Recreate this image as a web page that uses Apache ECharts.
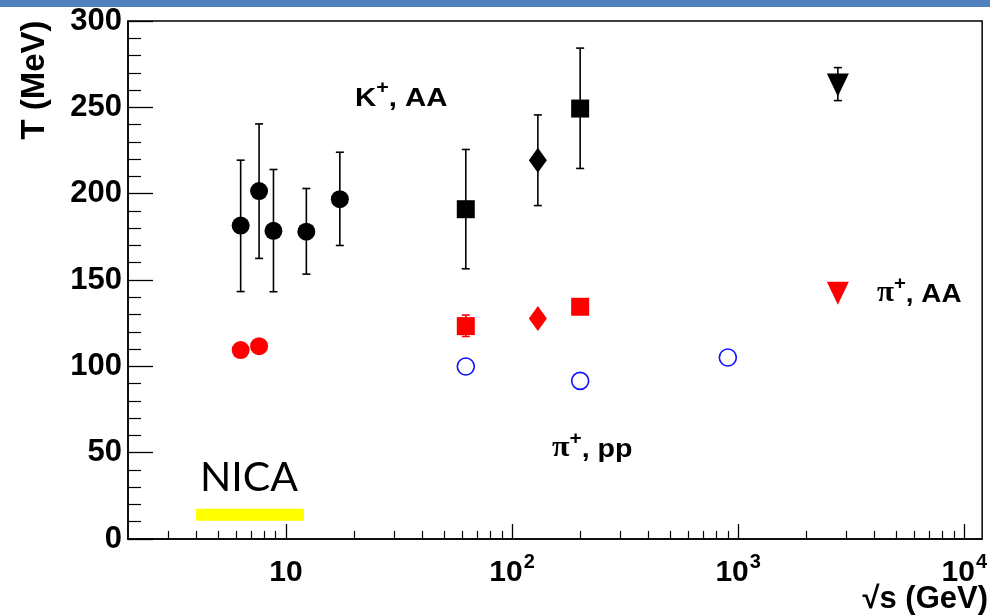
<!DOCTYPE html>
<html>
<head>
<meta charset="utf-8">
<script src="https://cdn.jsdelivr.net/npm/echarts@6/dist/echarts.min.js"></script>
<style>
  html, body { margin: 0; padding: 0; background: #fff; }
  #chart { width: 990px; height: 615px; }
</style>
</head>
<body>
<div id="chart"></div>
<script>
// Kaon and pion inverse-slope temperatures vs collision energy

// K+ in nucleus-nucleus collisions (with error bars)
const kaonCircleX = [6.3, 7.6, 8.8, 12.3, 17.3];
const kaonCircleT = [181.5, 201.5, 178.5, 178, 196.8];
const kaonCircleLo = [143.3, 162.5, 143.2, 153.4, 170];
const kaonCircleHi = [219.4, 240.4, 214, 203, 224];

const kaonSquareX = [62.4, 200];
const kaonSquareT = [191, 249.3];
const kaonSquareLo = [156.5, 214.6];
const kaonSquareHi = [225.6, 284.3];

const kaonDiamondX = [130];
const kaonDiamondT = [219.4];
const kaonDiamondLo = [193.1];
const kaonDiamondHi = [245.6];

const kaonTriangleX = [2760];
const kaonTriangleT = [263];
const kaonTriangleLo = [253.9];
const kaonTriangleHi = [273];

// pi+ in nucleus-nucleus collisions
const pionAACircleX = [6.3, 7.6];
const pionAACircleT = [109.4, 111.7];

const pionAASquareX = [62.4, 200];
const pionAASquareT = [123.3, 134.5];
const pionAASquareErrX = [62.4];
const pionAASquareErrLo = [117.3];
const pionAASquareErrHi = [129.7];

const pionAADiamondX = [130];
const pionAADiamondT = [127.7];

const pionAATriangleX = [2760];
const pionAATriangleT = [142.3];

// pi+ in proton-proton collisions
const pionPPX = [62.4, 200, 900];
const pionPPT = [99.9, 91.6, 105.1];

// NICA energy range (sqrt(s) GeV) and band height (MeV)
const nicaRange = [4, 12];
const nicaBand = [10.5, 17.5];

// axis ticks
const xMajorTicks = [10, 100, 1000, 10000];
const xMinorTicks = [3, 4, 5, 6, 7, 8, 9, 20, 30, 40, 50, 60, 70, 80, 90,
  200, 300, 400, 500, 600, 700, 800, 900, 2000, 3000, 4000, 5000, 6000, 7000, 8000, 9000];

const zip = (xs, ys) => xs.map((x, i) => [x, ys[i]]);
const zip3 = (xs, lo, hi) => xs.map((x, i) => [x, lo[i], hi[i]]);

function errorBars(data, color) {
  return {
    type: 'custom',
    xAxisIndex: 0,
    yAxisIndex: 0,
    data: data,
    encode: { x: 0, y: [1, 2] },
    z: 1,
    silent: true,
    renderItem: function (params, api) {
      const x = api.value(0);
      const top = api.coord([x, api.value(2)]);
      const bot = api.coord([x, api.value(1)]);
      const cap = 4;
      const st = { stroke: color, lineWidth: 1.6 };
      return {
        type: 'group',
        children: [
          { type: 'line', shape: { x1: top[0], y1: top[1], x2: bot[0], y2: bot[1] }, style: st },
          { type: 'line', shape: { x1: top[0] - cap, y1: top[1], x2: top[0] + cap, y2: top[1] }, style: st },
          { type: 'line', shape: { x1: bot[0] - cap, y1: bot[1], x2: bot[0] + cap, y2: bot[1] }, style: st }
        ]
      };
    }
  };
}

function markers(data, symbol, size, color, extra) {
  return Object.assign({
    type: 'scatter',
    data: data,
    symbol: symbol,
    symbolSize: size,
    itemStyle: { color: color, opacity: 1 },
    z: 3,
    silent: true
  }, extra || {});
}

// rich-text styles for the particle annotations
function annotationRich() {
  const base = { fontFamily: 'Liberation Sans', fontWeight: 'bold', fill: '#000', lineHeight: 34 };
  return {
    p: Object.assign({}, base, { fontSize: 29, fontFamily: 'Liberation Serif', verticalAlign: 'bottom' }),
    b: Object.assign({}, base, { fontSize: 26, verticalAlign: 'bottom' }),
    s: Object.assign({}, base, { fontSize: 19, verticalAlign: 'top' })
  };
}

const chart = echarts.init(document.getElementById('chart'), null, { renderer: 'canvas' });

const sansBold = { fontFamily: 'Liberation Sans', fontWeight: 'bold', color: '#000' };

chart.setOption({
  animation: false,
  backgroundColor: '#fff',
  grid: {
    left: 128, top: 21, right: 4, bottom: 76,
    show: true, borderColor: '#000', borderWidth: 1.5, backgroundColor: 'transparent'
  },
  xAxis: [
    {
      type: 'log', logBase: 10, min: 2, max: 12000,
      axisLine: { show: true, lineStyle: { color: '#000', width: 1.5 } },
      axisTick: { show: true, inside: true, length: 15, lineStyle: { color: '#000', width: 1.3 }, customValues: xMajorTicks },
      axisLabel: {
        show: true, margin: 13, customValues: xMajorTicks,
        formatter: function (v) {
          const e = Math.round(Math.log10(v));
          return e === 1 ? '{b|10}' : '{b|10}{s|' + e + '}';
        },
        rich: {
          b: Object.assign({ fontSize: 30, lineHeight: 36, verticalAlign: 'bottom' }, sansBold),
          s: Object.assign({ fontSize: 20, lineHeight: 36, verticalAlign: 'top', padding: [0, 0, 0, 1] }, sansBold)
        }
      },
      splitLine: { show: false },
      minorTick: { show: false }
    },
    {
      type: 'log', logBase: 10, min: 2, max: 12000, position: 'bottom',
      axisLine: { show: false },
      axisTick: { show: true, inside: true, length: 8, lineStyle: { color: '#000', width: 1.2 }, customValues: xMinorTicks },
      axisLabel: { show: false },
      splitLine: { show: false }
    }
  ],
  yAxis: {
    type: 'value', min: 0, max: 300, interval: 50,
    axisLine: { show: true, lineStyle: { color: '#000', width: 1.5 } },
    axisTick: { show: true, inside: true, length: 25, lineStyle: { color: '#000', width: 1.3 } },
    minorTick: { show: true, splitNumber: 5, length: 13, lineStyle: { color: '#000', width: 1.2 } },
    axisLabel: Object.assign({ fontSize: 31, margin: 6 }, sansBold),
    splitLine: { show: false }
  },
  series: [
    // NICA band
    {
      type: 'custom',
      data: [[nicaRange[0], nicaRange[1], nicaBand[0], nicaBand[1]]],
      encode: { x: [0, 1], y: [2, 3] },
      silent: true,
      z: 1,
      renderItem: function (params, api) {
        const p0 = api.coord([api.value(0), api.value(3)]);
        const p1 = api.coord([api.value(1), api.value(2)]);
        return {
          type: 'rect',
          shape: { x: p0[0], y: p0[1], width: p1[0] - p0[0], height: p1[1] - p0[1] },
          style: { fill: '#FFFF00' }
        };
      }
    },
    errorBars(zip3(kaonCircleX, kaonCircleLo, kaonCircleHi), '#000'),
    errorBars(zip3(kaonSquareX, kaonSquareLo, kaonSquareHi), '#000'),
    errorBars(zip3(kaonDiamondX, kaonDiamondLo, kaonDiamondHi), '#000'),
    errorBars(zip3(kaonTriangleX, kaonTriangleLo, kaonTriangleHi), '#000'),
    errorBars(zip3(pionAASquareErrX, pionAASquareErrLo, pionAASquareErrHi), '#FF0000'),

    markers(zip(kaonCircleX, kaonCircleT), 'circle', 18, '#000'),
    markers(zip(kaonSquareX, kaonSquareT), 'rect', 18, '#000'),
    markers(zip(kaonDiamondX, kaonDiamondT), 'diamond', [18, 25], '#000'),
    markers(zip(kaonTriangleX, kaonTriangleT), 'triangle', [22, 23], '#000', { symbolRotate: 180 }),

    markers(zip(pionAACircleX, pionAACircleT), 'circle', 18, '#FF0000'),
    markers(zip(pionAASquareX, pionAASquareT), 'rect', 18, '#FF0000'),
    markers(zip(pionAADiamondX, pionAADiamondT), 'diamond', [18, 25], '#FF0000'),
    markers(zip(pionAATriangleX, pionAATriangleT), 'triangle', [22, 23], '#FF0000', { symbolRotate: 180 }),

    markers(zip(pionPPX, pionPPT), 'circle', 17, '#fff', {
      itemStyle: { color: 'rgba(255,255,255,0)', borderColor: '#1010FF', borderWidth: 1.6, opacity: 1 }
    })
  ],
  graphic: [
    { type: 'rect', left: 0, top: 0, shape: { width: 990, height: 7 }, style: { fill: '#4F81BD' }, silent: true },
    {
      type: 'text', x: 35, y: 80, rotation: Math.PI / 2, silent: true,
      style: { text: 'T (MeV)', fontSize: 33, fontFamily: 'Liberation Sans', fontWeight: 'bold', align: 'center', verticalAlign: 'middle', fill: '#000' }
    },
    {
      type: 'text', x: 988, y: 599, silent: true,
      style: { text: '√s (GeV)', fontSize: 31, fontFamily: 'Liberation Sans', fontWeight: 'bold', align: 'right', verticalAlign: 'middle', fill: '#000' }
    },
    {
      type: 'text', x: 355, y: 95, scaleX: 1.13, silent: true,
      style: { text: '{b|K}{s|+}{b|, AA}', align: 'left', verticalAlign: 'middle', rich: annotationRich() }
    },
    {
      type: 'text', x: 877, y: 291, scaleX: 1.07, silent: true,
      style: { text: '{p|π}{s|+}{b|, AA}', align: 'left', verticalAlign: 'middle', rich: annotationRich() }
    },
    {
      type: 'text', x: 552, y: 446, scaleX: 1.1, silent: true,
      style: { text: '{p|π}{s|+}{b|, pp}', align: 'left', verticalAlign: 'middle', rich: annotationRich() }
    },
    {
      type: 'text', x: 249, y: 478, silent: true,
      style: { text: 'NICA', fontSize: 41, fontFamily: 'Lato', fill: '#000', align: 'center', verticalAlign: 'middle' }
    }
  ]
});
</script>
</body>
</html>
